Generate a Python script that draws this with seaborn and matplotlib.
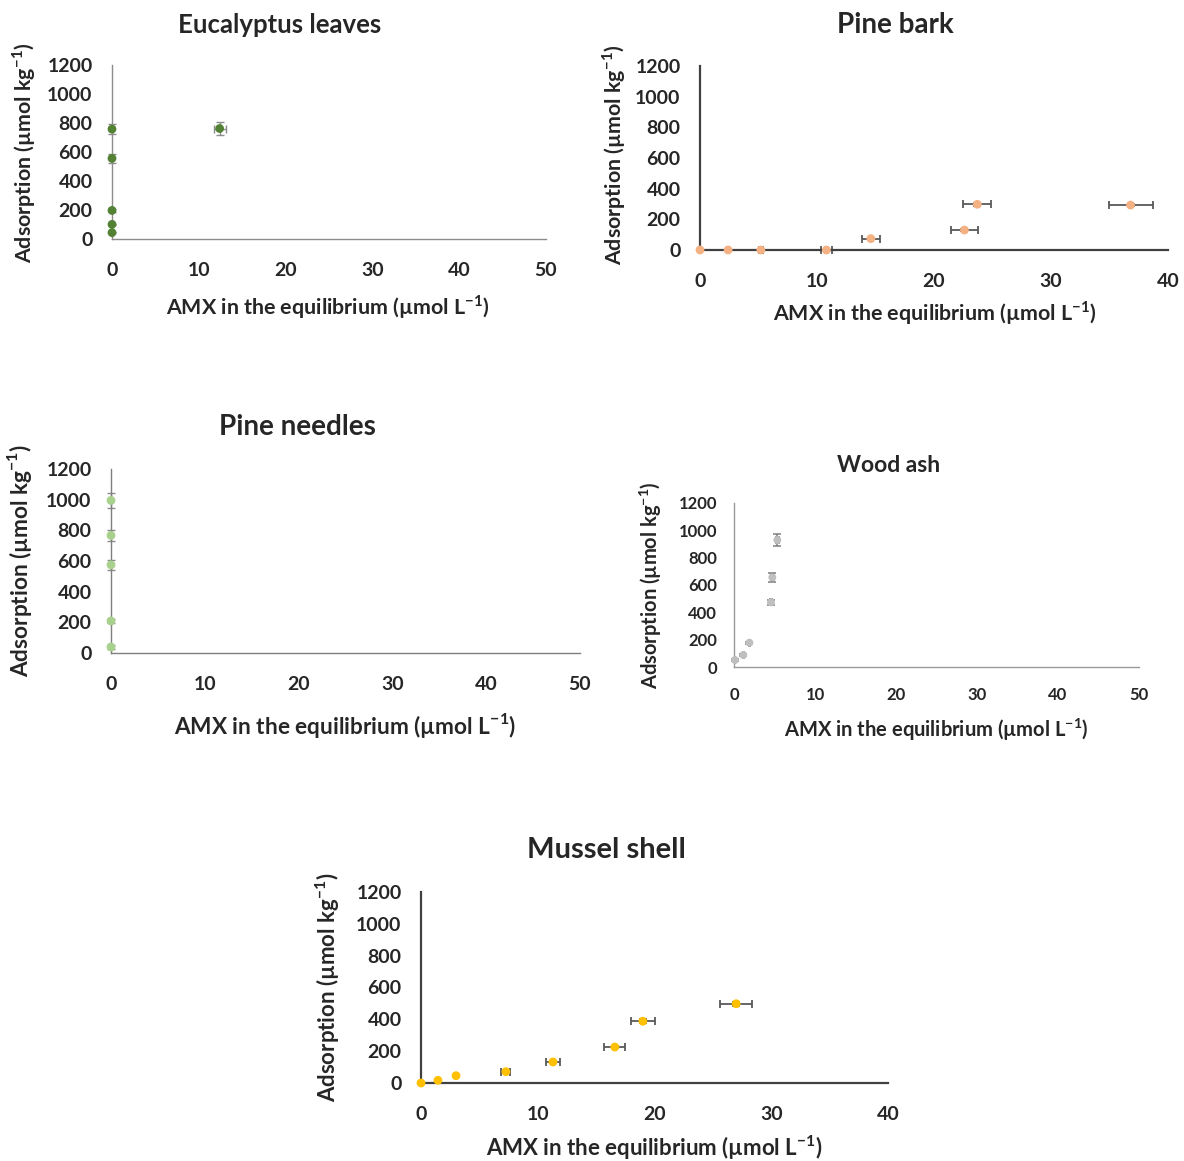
import matplotlib
matplotlib.use("Agg")
import matplotlib.pyplot as plt
import seaborn as sns
import pandas as pd
import numpy as np

# values
euc_x = [0, 0, 0, 0, 0, 12.4]
euc_y = [44, 101, 197, 556, 758, 762]
euc_xerr = [0, 0, 0, 0, 0, 0.7]
euc_yerr = [5, 5, 8, 30, 35, 42]

bark_x = [0, 2.4, 5.2, 10.8, 14.6, 22.6, 23.7, 36.8]
bark_y = [0, 0, 0, 0, 74, 130, 298, 293]
bark_xerr = [0, 0.1, 0.15, 0.5, 0.78, 1.15, 1.2, 1.88]
bark_yerr = [0, 0, 0, 0, 5, 5, 8, 8]

needle_x = [0, 0, 0, 0, 0]
needle_y = [39, 209, 575, 767, 995]
needle_xerr = [0, 0, 0, 0, 0]
needle_yerr = [10, 12, 33, 36, 50]

ash_x = [0.12, 1.15, 1.9, 4.57, 4.73, 5.35]
ash_y = [51, 88, 178, 473, 656, 929]
ash_xerr = [0.05, 0.05, 0.05, 0.15, 0.15, 0.15]
ash_yerr = [5, 5, 8, 20, 34, 46]

mussel_x = [0, 1.45, 3.0, 7.27, 11.3, 16.6, 19.0, 27.0]
mussel_y = [0, 17, 46, 71, 132, 226, 388, 498]
mussel_xerr = [0, 0, 0, 0.38, 0.61, 0.91, 1.0, 1.37]
mussel_yerr = [0, 0, 0, 8, 6, 6, 12, 12]

y_ticks = [0, 200, 400, 600, 800, 1000, 1200]

sns.set_style("white")
plt.rcParams["font.family"] = ["Lato", "DejaVu Sans"]
plt.rcParams["font.weight"] = "bold"
plt.rcParams["mathtext.fontset"] = "custom"
plt.rcParams["mathtext.rm"] = "Lato"
plt.rcParams["mathtext.bf"] = "Lato:bold"

W, H = 1184, 1161
fig = plt.figure(figsize=(W / 100, H / 100), dpi=100)

XLAB = r"AMX in the equilibrium (µmol L$^{\mathbf{-1}}$)"
YLAB = r"Adsorption (µmol kg$^{\mathbf{-1}}$)"


def px_axes(x0, y0, x1, y1):
    return fig.add_axes([x0 / W, 1 - y1 / H, (x1 - x0) / W, (y1 - y0) / H])


def panel(box, x, y, xerr, yerr, xmax, color, title, title_pos, xlab_pos,
          ylab_pos, spine_col, spine_w, fs=14, title_fs=19, lab_fs=15.5, ms=40,
          err_col="#595959", err_w=1.3):
    ax = px_axes(*box)
    df = pd.DataFrame({"x": x, "y": y})
    ax.errorbar(x, y, xerr=xerr, yerr=yerr, fmt="none", ecolor=err_col,
                elinewidth=err_w, capsize=3, capthick=err_w, clip_on=False, zorder=2)
    sns.scatterplot(data=df, x="x", y="y", ax=ax, color=color, s=ms,
                    edgecolor="none", clip_on=False, zorder=3)
    ax.set_xlim(0, xmax)
    ax.set_ylim(0, 1200)
    ax.set_xticks(np.arange(0, xmax + 1, 10))
    ax.set_yticks(y_ticks)
    ax.tick_params(length=0, labelsize=fs)
    ax.tick_params(axis="x", pad=fs * 1.2)
    ax.tick_params(axis="y", pad=fs)
    for lab in ax.get_xticklabels() + ax.get_yticklabels():
        lab.set_fontweight("bold")
    ax.set_xlabel("")
    ax.set_ylabel("")
    for s in ["top", "right"]:
        ax.spines[s].set_visible(False)
    for s in ["left", "bottom"]:
        ax.spines[s].set_color(spine_col)
        ax.spines[s].set_linewidth(spine_w)
    fig.text(title_pos[0] / W, 1 - title_pos[1] / H, title, ha="center",
             va="center", fontsize=title_fs, fontweight="bold")
    fig.text(xlab_pos[0] / W, 1 - xlab_pos[1] / H, XLAB, ha="center",
             va="center", fontsize=lab_fs, fontweight="bold")
    fig.text(ylab_pos[0] / W, 1 - ylab_pos[1] / H, YLAB, ha="center",
             va="center", fontsize=lab_fs, fontweight="bold", rotation=90)
    return ax


panel((112, 65, 546, 239), euc_x, euc_y, euc_xerr, euc_yerr, 50, "#548235",
      "Eucalyptus leaves", (280, 25), (328, 307), (24, 153), "#8c8c8c", 1.0,
      title_fs=18.5, lab_fs=15.4, err_col="#8c8c8c", err_w=1.0)
panel((700, 66, 1168, 250), bark_x, bark_y, bark_xerr, bark_yerr, 40, "#F4B183",
      "Pine bark", (895, 25), (935, 313), (614, 155), "#404040", 1.6,
      title_fs=20, lab_fs=15.4)
panel((111, 469, 580, 653), needle_x, needle_y, needle_xerr, needle_yerr, 50,
      "#A9D18E", "Pine needles", (297, 427), (345, 725), (20, 560), "#7f7f7f", 1.0,
      title_fs=20, lab_fs=16.3, err_col="#8c8c8c", err_w=1.0)
panel((734, 503, 1139, 667), ash_x, ash_y, ash_xerr, ash_yerr, 50, "#BFBFBF",
      "Wood ash", (889, 466), (936, 730), (651, 585), "#999999", 1.0,
      fs=12, title_fs=16.5, lab_fs=14.5, ms=32, err_col="#7f7f7f", err_w=1.1)
panel((421, 892, 888, 1083), mussel_x, mussel_y, mussel_xerr, mussel_yerr, 40,
      "#FFC000", "Mussel shell", (606, 850), (654, 1148), (328, 987), "#404040", 1.6,
      title_fs=21, lab_fs=16)

fig.savefig("out.png", dpi=100)
